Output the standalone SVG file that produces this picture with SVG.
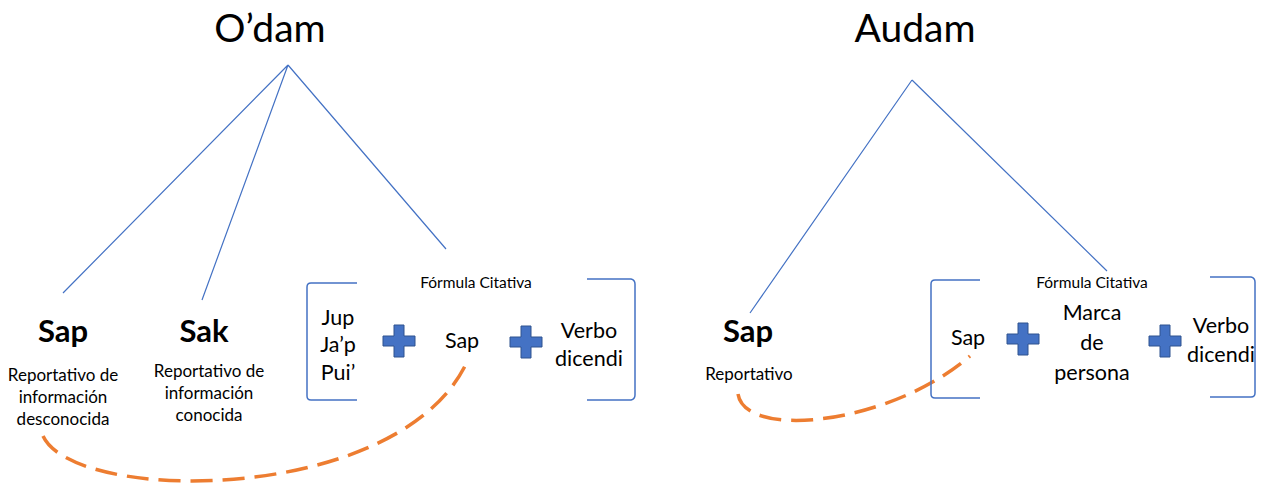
<svg xmlns="http://www.w3.org/2000/svg" width="1264" height="485" viewBox="0 0 1264 485">
<defs>
<style>
text{font-family:Lato,"Open Sans","Liberation Sans",sans-serif;fill:#000;text-anchor:middle}
.title{font-size:39px}
.bold{font-size:31px;font-weight:bold}
.small{font-size:17px}
.fc{font-size:15.5px}
.mid{font-size:21.5px}
.tree{stroke:#4472C4;stroke-width:1.2;fill:none}
.br{stroke:#4472C4;stroke-width:1.5;fill:none}
.arc{stroke:#ED7D31;stroke-width:3.5;fill:none;stroke-dasharray:22 10}
.plus{fill:#4472C4;stroke:#2F528F;stroke-width:1}
</style>
<path id="plus" d="M-5,-16 H5 V-5 H16 V5 H5 V16 H-5 V5 H-16 V-5 H-5 Z"/>
</defs>
<rect width="1264" height="485" fill="#fff"/>
<g id="connectors">
<path class="tree" d="M288,65 L63,293 M288,65 L202,300 M288,65 L446,249"/>
<path class="tree" d="M912,80 L750,313 M912,80 L1107,271"/>
<path class="arc" d="M43,436 C75,505 400,505 467,362"/>
<path class="arc" d="M738,394 C745,440 890,425 970,356"/>
</g>
<g id="title-odam"><text class="title" x="270" y="42">O’dam</text></g>
<g id="title-audam"><text class="title" x="915" y="42">Audam</text></g>
<g id="node-sap-left">
<text class="bold" x="63" y="342">Sap</text>
<text class="small" x="63" y="381">Reportativo de</text>
<text class="small" x="63" y="403">información</text>
<text class="small" x="63" y="425">desconocida</text>
</g>
<g id="node-sak">
<text class="bold" x="204" y="342">Sak</text>
<text class="small" x="209" y="377">Reportativo de</text>
<text class="small" x="209" y="399">información</text>
<text class="small" x="209" y="421">conocida</text>
</g>
<g id="formula-left">
<path class="br" d="M357,283 H311 Q307,283 307,287 V396 Q307,400 311,400 H357"/>
<path class="br" d="M587,279 H631 Q635,280 635,284 V395 Q635,399 631,400 H587"/>
<text class="fc" x="476" y="288">Fórmula Citativa</text>
<text class="mid" x="338" y="325">Jup</text>
<text class="mid" x="338" y="352">Ja’p</text>
<text class="mid" x="338" y="380">Pui’</text>
<use href="#plus" class="plus" x="399" y="341"/>
<text class="mid" x="462" y="348">Sap</text>
<use href="#plus" class="plus" x="526" y="342"/>
<text class="mid" x="589" y="338">Verbo</text>
<text class="mid" x="589" y="366">dicendi</text>
</g>
<g id="node-sap-right">
<text class="bold" x="748" y="342">Sap</text>
<text class="small" x="749" y="380">Reportativo</text>
</g>
<g id="formula-right">
<path class="br" d="M980,280 H935 Q931,280 931,284 V394 Q931,398 935,398 H980"/>
<path class="br" d="M1210,277 H1251 Q1255,278 1255,282 V393 Q1255,397 1251,397 H1210"/>
<text class="fc" x="1092" y="288">Fórmula Citativa</text>
<text class="mid" x="968" y="345">Sap</text>
<use href="#plus" class="plus" x="1023" y="339"/>
<text class="mid" x="1092" y="320">Marca</text>
<text class="mid" x="1092" y="350">de</text>
<text class="mid" x="1092" y="380">persona</text>
<use href="#plus" class="plus" x="1165" y="341"/>
<text class="mid" x="1221" y="333">Verbo</text>
<text class="mid" x="1221" y="362">dicendi</text>
</g>
</svg>
